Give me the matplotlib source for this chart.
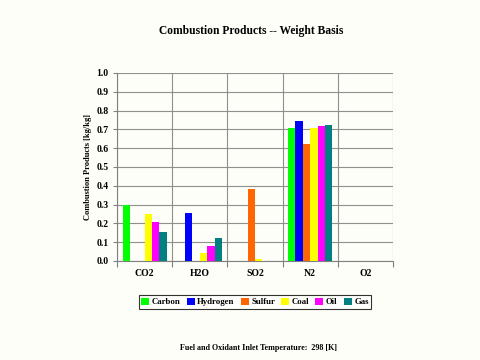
import matplotlib
matplotlib.use("Agg")
import matplotlib.pyplot as plt
import numpy as np

categories = ["CO2", "H2O", "SO2", "N2", "O2"]
series_names = ["Carbon", "Hydrogen", "Sulfur", "Coal", "Oil", "Gas"]
carbon = [0.297, 0.0, 0.0, 0.707, 0.0]
hydrogen = [0.0, 0.257, 0.0, 0.745, 0.0]
sulfur = [0.0, 0.0, 0.383, 0.620, 0.0]
coal = [0.250, 0.043, 0.008, 0.707, 0.0]
oil = [0.207, 0.080, 0.0, 0.718, 0.0]
gas = [0.154, 0.125, 0.0, 0.723, 0.0]
colors = ["#00ff00", "#0000ff", "#ff6600", "#ffff00", "#ff00ff", "#008080"]
yticks = [round(0.1 * i, 1) for i in range(11)]

bg = "#fdfef8"
plt.rcParams["font.family"] = ["Liberation Serif", "DejaVu Serif"]
fig = plt.figure(figsize=(4.8, 3.6), dpi=100, facecolor=bg)
ax = fig.add_axes([117 / 480, 1 - 261 / 360, 276 / 480, 188 / 360])
ax.set_facecolor(bg)

data = [carbon, hydrogen, sulfur, coal, oil, gas]
x = np.arange(len(categories))
n = len(data)
w = 0.8 / n
for i, (vals, c, name) in enumerate(zip(data, colors, series_names)):
    ax.bar(x - 0.4 + w * (i + 0.5), vals, width=w, color=c, label=name,
           edgecolor="none", zorder=3)

ax.set_xlim(-0.5, len(categories) - 0.5)
ax.set_ylim(0, 1.0)
ax.set_yticks(yticks)
ax.set_yticklabels([f"{v:.1f}" for v in yticks], fontsize=7, fontweight="bold")
ax.set_xticks(np.arange(-0.5, len(categories), 1.0))
ax.set_xticklabels([])
ax.set_xticks(x, minor=True)
ax.set_xticklabels(categories, minor=True, fontsize=7, fontweight="bold")
ax.tick_params(axis="x", which="minor", length=0, pad=6)
ax.tick_params(axis="x", which="major", length=4, color="#808080", width=0.8)
ax.tick_params(axis="y", length=3, color="#808080", width=0.8, pad=3)
ax.grid(True, which="major", color="#909090", linewidth=0.8, zorder=0)
for s in ["top", "right"]:
    ax.spines[s].set_visible(False)
for s in ["left", "bottom"]:
    ax.spines[s].set_color("#808080")
    ax.spines[s].set_linewidth(0.8)
ax.set_ylabel("Combustion Products [kg/kg]", fontsize=6, fontweight="bold", labelpad=3)

fig.suptitle("Combustion Products -- Weight Basis", x=251 / 480, y=1 - 31 / 360,
             fontsize=8.3, fontweight="bold", va="center")

leg = fig.legend(loc="center", bbox_to_anchor=(255 / 480, 1 - 302 / 360), ncol=6,
                 prop={"size": 6.3, "weight": "bold"}, frameon=True, fancybox=False,
                 handlelength=0.9, handleheight=0.9, handletextpad=0.3,
                 columnspacing=0.7, borderpad=0.3, borderaxespad=0)
leg.get_frame().set_edgecolor("#000000")
leg.get_frame().set_linewidth(0.8)
leg.get_frame().set_facecolor("white")

fig.text(258 / 480, 1 - 348 / 360, "Fuel and Oxidant Inlet Temperature:  298 [K]",
         ha="center", va="center", fontsize=5.8, fontweight="bold")

fig.savefig("out.png", dpi=100, facecolor=bg)
